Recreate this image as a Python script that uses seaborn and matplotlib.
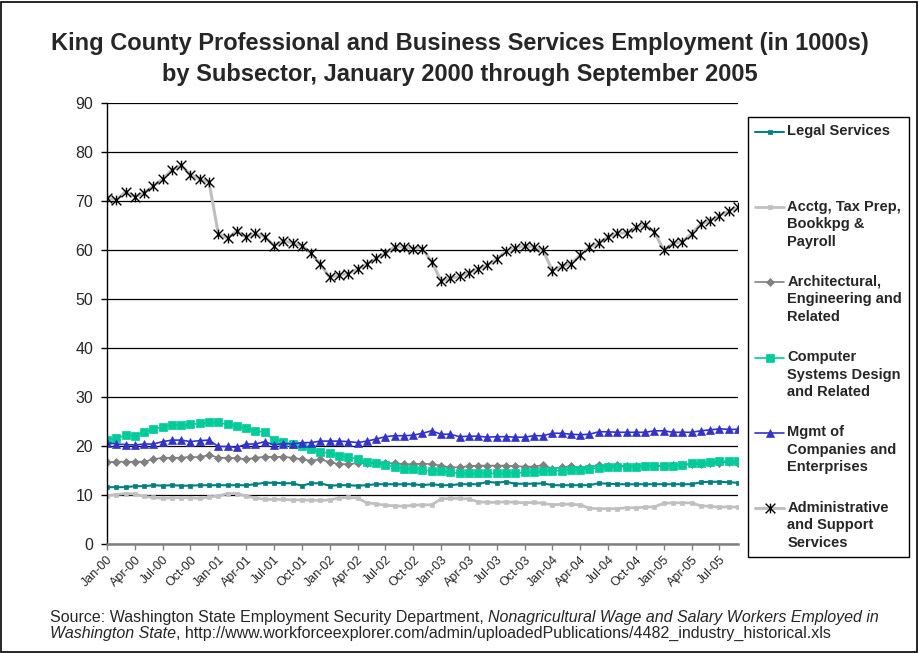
import numpy as np
import pandas as pd
import seaborn as sns
import matplotlib.pyplot as plt
from matplotlib.path import Path
from matplotlib.patches import Rectangle
from matplotlib.lines import Line2D
from matplotlib.legend_handler import HandlerLine2D

# months Jan 2000 .. Sep 2005 (one point per month)
months = pd.date_range('2000-01-01', '2005-09-01', freq='MS')
month_labels = list(months.strftime('%b-%y'))

# employment, thousands
legal = [11.6, 11.6, 11.6, 11.8, 11.8, 12.0, 11.9, 12.0, 11.9, 11.9, 12.0, 12.0,
         12.0, 12.0, 12.0, 12.0, 12.2, 12.5, 12.5, 12.4, 12.4, 11.9, 12.4, 12.4,
         11.9, 12.0, 12.0, 11.9, 12.0, 12.2, 12.2, 12.2, 12.2, 12.2, 12.0, 12.2,
         12.0, 12.0, 12.2, 12.2, 12.2, 12.7, 12.5, 12.7, 12.3, 12.3, 12.3, 12.4,
         12.0, 12.0, 12.0, 12.0, 12.0, 12.4, 12.3, 12.2, 12.2, 12.2, 12.2, 12.2,
         12.2, 12.2, 12.2, 12.2, 12.6, 12.7, 12.7, 12.6, 12.5]
acctg = [9.9, 10.1, 10.3, 10.2, 9.7, 9.5, 9.3, 9.45, 9.45, 9.45, 9.3, 9.6,
         9.8, 10.3, 10.3, 9.8, 9.4, 9.1, 9.1, 9.1, 9.0, 9.0, 8.95, 8.9,
         9.0, 9.4, 9.5, 9.4, 8.4, 8.2, 7.9, 7.8, 7.7, 7.9, 8.0, 8.0,
         9.2, 9.3, 9.3, 9.2, 8.6, 8.5, 8.5, 8.6, 8.5, 8.4, 8.5, 8.3,
         8.0, 8.1, 8.1, 8.0, 7.3, 7.2, 7.2, 7.2, 7.4, 7.4, 7.5, 7.6,
         8.3, 8.4, 8.4, 8.4, 7.8, 7.7, 7.5, 7.6, 7.5]
arch = [16.7, 16.8, 16.8, 16.8, 16.8, 17.3, 17.6, 17.6, 17.6, 17.8, 17.7, 18.2,
        17.6, 17.6, 17.5, 17.3, 17.6, 17.8, 17.8, 17.8, 17.6, 17.3, 17.0, 17.3,
        16.7, 16.3, 16.3, 16.5, 16.6, 16.5, 16.5, 16.5, 16.3, 16.3, 16.4, 16.3,
        16.0, 15.65, 15.65, 15.9, 16.0, 16.0, 16.0, 16.0, 15.9, 15.8, 15.8, 16.1,
        15.4, 15.65, 15.9, 15.6, 15.65, 16.1, 15.9, 16.1, 15.9, 15.9, 15.9, 15.9,
        16.0, 16.1, 16.1, 16.3, 16.4, 16.5, 16.6, 16.7, 16.6]
computer = [21.2, 21.6, 22.2, 22.1, 22.8, 23.5, 23.8, 24.3, 24.3, 24.4, 24.6, 24.8,
            24.8, 24.4, 24.1, 23.6, 23.1, 22.8, 21.2, 20.8, 20.4, 19.9, 19.3, 18.8,
            18.5, 18.0, 17.8, 17.3, 16.7, 16.5, 16.1, 15.8, 15.4, 15.3, 15.2, 14.8,
            14.9, 14.6, 14.4, 14.4, 14.4, 14.4, 14.4, 14.4, 14.5, 14.6, 14.7, 14.8,
            14.9, 15.0, 15.1, 15.2, 15.4, 15.5, 15.7, 15.7, 15.8, 15.8, 15.9, 15.9,
            15.9, 16.0, 16.1, 16.5, 16.5, 16.7, 16.9, 16.9, 16.9]
mgmt = [20.7, 20.4, 20.3, 20.2, 20.4, 20.4, 20.9, 21.2, 21.2, 20.9, 21.1, 21.2,
        19.9, 19.9, 19.7, 20.4, 20.4, 20.9, 20.2, 20.5, 20.4, 20.7, 20.7, 21.0,
        21.0, 21.0, 20.9, 20.7, 21.0, 21.4, 21.9, 22.1, 22.1, 22.2, 22.6, 23.1,
        22.4, 22.4, 21.9, 22.0, 22.0, 21.8, 21.9, 21.9, 21.8, 21.8, 22.1, 22.1,
        22.6, 22.6, 22.4, 22.3, 22.4, 22.9, 22.9, 22.8, 22.8, 22.8, 22.8, 23.1,
        23.1, 22.8, 22.8, 22.8, 23.1, 23.3, 23.5, 23.4, 23.4]
admin = [70.6, 70.2, 71.9, 70.9, 71.6, 73.1, 74.5, 76.3, 77.3, 75.3, 74.5, 73.8,
         63.3, 62.4, 63.9, 62.6, 63.4, 62.7, 60.9, 61.9, 61.4, 60.9, 59.3, 57.1,
         54.4, 54.9, 55.2, 56.1, 57.1, 58.3, 59.3, 60.7, 60.6, 60.3, 60.3, 57.6,
         53.7, 54.2, 54.6, 55.4, 56.1, 56.9, 58.2, 59.7, 60.4, 60.8, 60.6, 59.9,
         55.8, 56.7, 57.1, 59.0, 60.6, 61.4, 62.7, 63.4, 63.5, 64.6, 65.1, 63.7,
         59.9, 61.4, 61.7, 63.3, 65.3, 66.0, 67.0, 68.0, 68.7]

df = pd.DataFrame({'pos': np.arange(len(months)), 'legal': legal, 'acctg': acctg,
                   'arch': arch, 'computer': computer, 'mgmt': mgmt, 'admin': admin})

# Excel style "star": an x with a vertical bar through it
star = Path([(-1, -1), (1, 1), (-1, 1), (1, -1), (0, -1), (0, 1)],
            [Path.MOVETO, Path.LINETO, Path.MOVETO, Path.LINETO, Path.MOVETO, Path.LINETO])

# column, label, line colour, line width, marker, size, marker colour
styles = [
    ('legal', 'Legal Services', '#008080', 1.5, 's', 3.2, '#008080'),
    ('acctg', 'Acctg, Tax Prep,\nBookkpg &\nPayroll', '#C0C0C0', 2.0, 's', 3.2, '#C0C0C0'),
    ('arch', 'Architectural,\nEngineering and\nRelated', '#808080', 1.2, 'D', 4.2, '#808080'),
    ('computer', 'Computer\nSystems Design\nand Related', '#00CC99', 1.2, 's', 5.5, '#00CC99'),
    ('mgmt', 'Mgmt of\nCompanies and\nEnterprises', '#3333CC', 1.2, '^', 6.0, '#3333CC'),
    ('admin', 'Administrative\nand Support\nServices', '#BFBFBF', 2.2, star, 7.0, 'black'),
]

sns.set_theme(style='white')
plt.rcParams['font.family'] = ['Liberation Sans', 'DejaVu Sans']

fig, ax = plt.subplots(figsize=(9.19, 6.53), dpi=100)
fig.subplots_adjust(left=0.1164, right=0.803, top=0.8423, bottom=0.1669)

for col, label, color, lw, marker, ms, mcolor in styles:
    sns.lineplot(data=df, x='pos', y=col, ax=ax, color=color, linewidth=lw,
                 marker=marker, markersize=ms, markerfacecolor=mcolor,
                 markeredgecolor=mcolor, markeredgewidth=1.0 if col == 'admin' else 0.5,
                 errorbar=None, label=label)

ax.set_xlim(0, 68)
ax.set_ylim(0, 90)
ax.set_yticks(range(0, 91, 10))
ax.set_xticks(np.arange(0, len(months), 3))
ax.set_xticklabels(month_labels[::3], rotation=45, ha='right', rotation_mode='anchor', fontsize=9)
ax.set_xlabel('')
ax.set_ylabel('')
ax.grid(axis='y', color='black', linewidth=0.9)
ax.set_axisbelow(True)
ax.spines[['top', 'right']].set_visible(False)
ax.spines['left'].set_color('black')
ax.spines['left'].set_linewidth(1.0)
ax.spines['bottom'].set_color('#808080')
ax.spines['bottom'].set_linewidth(1.8)
ax.tick_params(axis='x', bottom=True, length=4, width=1, color='#808080', pad=3)
ax.tick_params(axis='y', left=True, length=4, width=1, color='black', labelsize=11.5, pad=6)


class FirstLineHandler(HandlerLine2D):
    # legend line sits beside the first line of the label, as Excel does it
    def create_artists(self, legend, orig_handle, xdescent, ydescent, width, height, fontsize, trans):
        shift = fontsize * 1.2
        return super().create_artists(legend, orig_handle, xdescent, ydescent - 2 * shift,
                                      width, height, fontsize, trans)


handles, labels = ax.get_legend_handles_labels()
labels[0] = labels[0] + '\n\n'
leg = ax.legend(handles, labels, loc='upper left', bbox_to_anchor=(748 / 919, 1 - 117 / 653),
                bbox_transform=fig.transFigure, borderaxespad=0, frameon=True, fancybox=False,
                edgecolor='black', framealpha=1, prop={'weight': 'bold', 'size': 10.5},
                handlelength=2.0, handletextpad=0.2, borderpad=0.5, labelspacing=1.8,
                handler_map={Line2D: FirstLineHandler()})
leg.get_frame().set_linewidth(1.0)
for t in leg.get_texts():
    t.set_linespacing(1.32)

fig.text(0.5005, 1 - 59 / 653,
         'King County Professional and Business Services Employment (in 1000s)\n'
         'by Subsector, January 2000 through September 2005',
         ha='center', va='center', fontsize=17, fontweight='bold', linespacing=1.45)

# source note, mixed upright / italic
src1 = fig.text(50 / 919, 1 - 622 / 653, 'Source: Washington State Employment Security Department, ',
                fontsize=11.5, va='baseline')
ax.annotate('Nonagricultural Wage and Salary Workers Employed in', xy=(1, 0), xycoords=src1,
            va='bottom', ha='left', fontsize=11.5, style='italic')
src3 = fig.text(50 / 919, 1 - 638 / 653, 'Washington State', fontsize=11.5, va='baseline', style='italic')
ax.annotate(', http://www.workforceexplorer.com/admin/uploadedPublications/4482_industry_historical.xls',
            xy=(1, 0), xycoords=src3, va='bottom', ha='left', fontsize=11.5)

# chart border
fig.patches.append(Rectangle((0.001, 0.0015), 0.997, 0.996, transform=fig.transFigure,
                             fill=False, edgecolor='black', linewidth=1.2))

fig.savefig('out.png', dpi=100)
